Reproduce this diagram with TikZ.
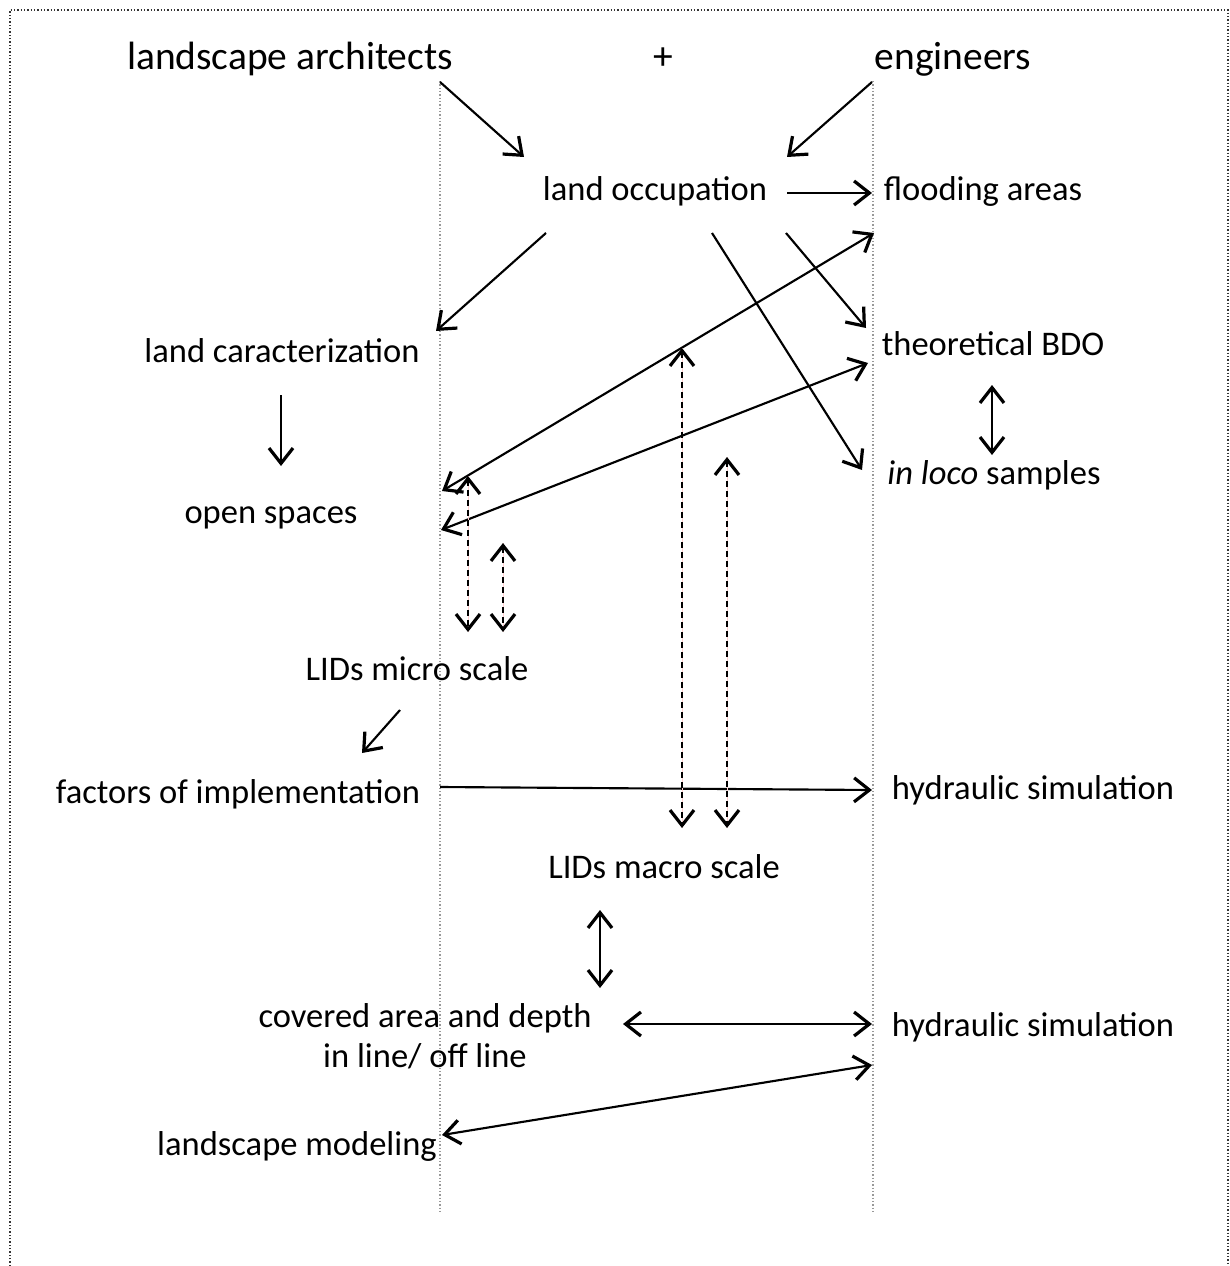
\documentclass[tikz,border=0pt]{standalone}
\usepackage{fontspec}
\setmainfont{Carlito}
\usetikzlibrary{arrows.meta}
\begin{document}
\begin{tikzpicture}[x=0.75pt,y=-0.75pt,
  lbl/.style={font=\fontsize{25.9}{30}\selectfont, anchor=base, inner sep=0pt},
  ttl/.style={font=\fontsize{29.6}{34}\selectfont, anchor=base, inner sep=0pt},
  barb/.tip={Straight Barb[length=11.5pt,width=18pt,line width=2.4pt]},
  arr/.style={line width=1.6pt, -barb},
  darr/.style={line width=1.6pt, barb-barb},
  pinkline/.style={line width=0.6pt, pink!70!red!40},
  dsh/.style={line width=1.8pt, dash pattern=on 4.5pt off 3pt, barb-barb},
  guide/.style={line width=0.9pt, gray!80, dash pattern=on 1pt off 1.5pt},
  frame/.style={line width=0.9pt, black!80, dash pattern=on 1pt off 1.5pt}
]
\useasboundingbox (0,0) rectangle (1230,1266);
\draw[frame] (10,1266) -- (10,10) -- (1228,10) -- (1228,1266);

% guide lines
\coordinate (g1t) at (440,81);
\coordinate (g1b) at (440,1213);
\coordinate (g2t) at (873,81);
\coordinate (g2b) at (873,1213);
\draw[guide] (g1t) -- (g1b);
\draw[guide] (g2t) -- (g2b);

% texts
\node[ttl] (la) at (290,70) {landscape architects};
\node[ttl] (plus) at (663,70) {+};
\node[ttl] (eng) at (953,70) {engineers};
\node[lbl] (lo) at (655,201) {land occupation};
\node[lbl] (fa) at (983,201) {flooding areas};
\node[lbl] (lc) at (282,362) {land caracterization};
\node[lbl] (tb) at (993,355) {theoretical BDO};
\node[lbl] (ils) at (994,484) {\textit{in loco} samples};
\node[lbl] (os) at (271,523) {open spaces};
\node[lbl] (lmi) at (417,680) {LIDs micro scale};
\node[lbl] (fi) at (238,803) {factors of implementation};
\node[lbl] (hs1) at (1033,799) {hydraulic simulation};
\node[lbl] (lma) at (664,878) {LIDs macro scale};
\node[lbl, align=center] (cad) at (425,1067) {covered area and depth\\in line/ off line};
\node[lbl] (hs2) at (1033,1036) {hydraulic simulation};
\node[lbl] (lm) at (297,1155) {landscape modeling};

% arrow endpoints
\coordinate (a1s) at (440,82);   \coordinate (a1e) at (524,157);
\coordinate (a2s) at (872,82);   \coordinate (a2e) at (787,157);
\coordinate (a3s) at (787,193);  \coordinate (a3e) at (872,193);
\coordinate (a4s) at (546,233);  \coordinate (a4e) at (436,331);
\coordinate (a5s) at (786,233);  \coordinate (a5e) at (866,328);
\coordinate (a6s) at (712,233);  \coordinate (a6e) at (862,470);
\coordinate (a7s) at (442,491);  \coordinate (a7e) at (874,233);
\coordinate (a8s) at (441,530);  \coordinate (a8e) at (868,363);
\coordinate (a9s) at (992,385);  \coordinate (a9e) at (992,455);
\coordinate (a10s) at (281,395); \coordinate (a10e) at (281,466);
\coordinate (d1s) at (468,476);  \coordinate (d1e) at (468,632);
\coordinate (d2s) at (503,543);  \coordinate (d2e) at (503,632);
\coordinate (d3s) at (682,348);  \coordinate (d3e) at (682,828);
\coordinate (d4s) at (727,457);  \coordinate (d4e) at (727,828);
\coordinate (a13s) at (400,710); \coordinate (a13e) at (362,753);
\coordinate (a14s) at (440,787); \coordinate (a14e) at (872,790);
\coordinate (a15s) at (600,910); \coordinate (a15e) at (600,988);
\coordinate (a16s) at (623,1024); \coordinate (a16e) at (872,1024);
\coordinate (a17s) at (442,1135); \coordinate (a17e) at (872,1065);

% solid arrows
\draw[arr] (a1s) -- (a1e);
\draw[arr] (a2s) -- (a2e);
\draw[arr] (a3s) -- (a3e);
\draw[arr] (a4s) -- (a4e);
\draw[arr] (a5s) -- (a5e);
\draw[arr] (a6s) -- (a6e);
\draw[darr] (a7s) -- (a7e);
\draw[darr] (a8s) -- (a8e);
\draw[darr] (a9s) -- (a9e);
\draw[arr] (a10s) -- (a10e);
\draw[arr] (a13s) -- (a13e);
\draw[arr] (a14s) -- (a14e);
\draw[darr] (a15s) -- (a15e);
\draw[darr] (a16s) -- (a16e);
\draw[darr] (a17s) -- (a17e);

% dashed double arrows
\foreach \s/\e in {d1s/d1e, d2s/d2e, d3s/d3e, d4s/d4e}{
  \draw[pinkline] (\s) -- (\e);
  \draw[dsh] (\s) -- (\e);
}
\end{tikzpicture}
\end{document}
